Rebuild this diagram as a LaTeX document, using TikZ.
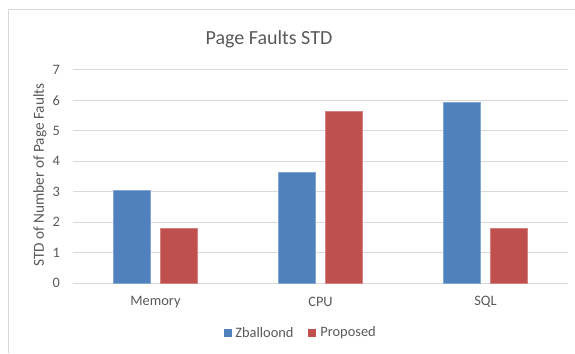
\documentclass[tikz,border=0pt]{standalone}
\usepackage{fontspec}
\setmainfont{Carlito}
\usepackage{pgf,tikz}
\usetikzlibrary{calc,positioning}

\definecolor{zblue}{RGB}{79,129,189}
\definecolor{pred}{RGB}{192,80,77}
\definecolor{gridgray}{RGB}{217,217,217}
\definecolor{textgray}{RGB}{89,89,89}

\begin{document}
\begin{tikzpicture}[x=1bp,y=1bp]
    \tikzstyle{gridline}=[draw=gridgray, line width=1bp]
    \tikzstyle{axistext}=[text=textgray, inner sep=0pt, font=\fontsize{14.4bp}{17bp}\selectfont]
    \tikzstyle{titletext}=[text=textgray, inner sep=0pt, font=\fontsize{20bp}{24bp}\selectfont]
    \tikzstyle{bar}=[line width=0.6bp]
    \tikzstyle{legendbox}=[minimum size=8bp, inner sep=0pt]

    \useasboundingbox (0,0) rectangle (575,353);
    \draw[gridline] (8,0) |- (575,343);

    \node[titletext] (title) at (269,314) {Page Faults STD};

    \begin{scope}[shift={(73,70)}, y=30.43bp]
    \foreach \v in {0,...,7}{
        \draw[gridline] (0,\v) -- (495,\v);
        \node[axistext, anchor=east] (tick\v) at (-13,\v) {\v};
    }
    \node[axistext, rotate=90, font=\fontsize{15.3bp}{18bp}\selectfont] (ytitle) at (-33,3.55) {STD of Number of Page Faults};

    \foreach \c/\z/\p/\name in {82.5/3.05/1.8/Memory, 247.5/3.65/5.63/CPU, 412.5/5.93/1.8/SQL}{
        \filldraw[bar, fill=zblue, draw=zblue!70!white] (\c-42,0) rectangle (\c-5,\z);
        \filldraw[bar, fill=pred, draw=pred!70!white] (\c+5,0) rectangle (\c+42,\p);
        \node[axistext] (cat\name) at (\c,-0.62) {\name};
    }
    \end{scope}

    \node[legendbox, fill=zblue] (keyz) at (228,20) {};
    \node[axistext, right=3bp of keyz] (keyztext) {Zballoond};
    \node[legendbox, fill=pred] (keyp) at (312,20) {};
    \node[axistext, right=4bp of keyp] (keyptext) {Proposed};
\end{tikzpicture}
\end{document}
